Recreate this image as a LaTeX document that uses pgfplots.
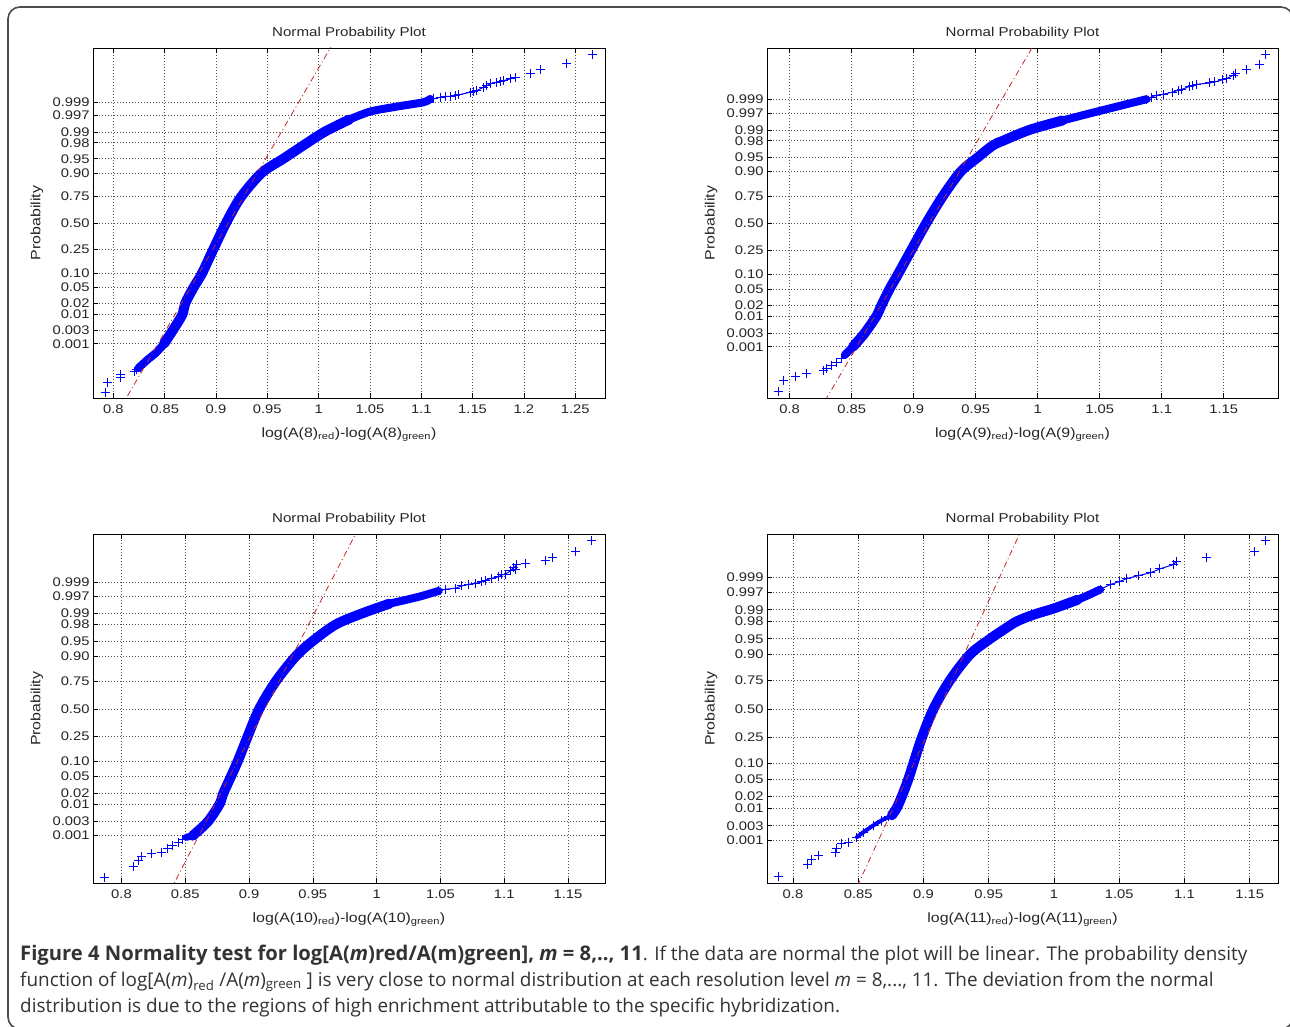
\documentclass[border=0pt]{standalone}
\usepackage{fontspec}
\setmainfont{Liberation Sans}[FakeStretch=1.18]
\newfontfamily\capfont{Open Sans}
\usepackage{pgfplots}
\pgfplotsset{compat=1.18}

\definecolor{refred}{RGB}{200,40,40}
\definecolor{gridgray}{RGB}{80,80,80}

% normal probability scale: y is the normal quantile, labels are probabilities
\pgfplotsset{
  nplot/.style={
    scale only axis,
    anchor=south west,
    axis line style={line width=0.8pt, black},
    tick align=inside,
    major tick length=5pt,
    tick style={line width=0.6pt, black},
    grid=major,
    grid style={line width=0.6pt, gridgray, dash pattern=on 1pt off 2pt},
    ytick={-3.0902,-2.7478,-2.3263,-2.0537,-1.6449,-1.2816,-0.6745,0,0.6745,1.2816,1.6449,2.0537,2.3263,2.7478,3.0902},
    yticklabels={0.001,0.003,0.01,0.02,0.05,0.10,0.25,0.50,0.75,0.90,0.95,0.98,0.99,0.997,0.999},
    ticklabel style={font=\fontsize{12.5}{12.5}\selectfont, text=black!85},
    xticklabel style={yshift=-3pt},
    title={Normal Probability Plot},
    title style={font=\fontsize{12.8}{13}\selectfont, text=black!85, at={(axis description cs:0.5,1.0157)}, anchor=base},
    xlabel style={font=\fontsize{13.5}{14}\selectfont, text=black!85, at={(axis description cs:0.5,-0.112)}, anchor=base},
    ylabel={Probability},
    ylabel style={font=\fontsize{13.5}{14}\selectfont, text=black!85, at={(axis description cs:-0.1094,0.5)}, anchor=center},
  },
  band/.style={blue, no marks, smooth, line cap=round, line join=round},
  pts/.style={blue, only marks, mark=+, mark size=4.5pt, mark options={line width=1pt}},
  tail/.style={blue, line width=1pt, mark=+, mark size=4.5pt, mark options={line width=1pt}},
  refline/.style={refred, line width=0.8pt, dash pattern=on 6pt off 3pt on 1pt off 3pt},
}

\begin{document}
\begin{tikzpicture}
\useasboundingbox (0pt,0pt) rectangle (1290pt,1026pt);
\fill[white] (0pt,0pt) rectangle (1290pt,1026pt);
\draw[line width=1.6pt, black!70, rounded corners=12pt] (8pt,-3pt) rectangle (1293pt,1019pt);

% m = 8
\begin{axis}[nplot, at={(93pt,628pt)}, width=512pt, height=350pt,
  xmin=0.7802, xmax=1.2790, ymin=-4.48, ymax=4.48,
  xtick={0.8,0.85,0.9,0.95,1,1.05,1.1,1.15,1.2,1.25},
  xticklabels={0.8,0.85,0.9,0.95,1,1.05,1.1,1.15,1.2,1.25},
  xlabel={log(A(8)\textsubscript{red})-log(A(8)\textsubscript{green})}]
\addplot[band, line width=8pt] coordinates {(0.8244,-3.715) (0.8326,-3.518) (0.8423,-3.305) (0.8494,-3.090)};
\addplot[band, line width=10pt] coordinates {(0.8494,-3.090) (0.8579,-2.750) (0.8673,-2.341) (0.8699,-2.067) (0.8780,-1.658) (0.8862,-1.300) (0.8972,-0.686) (0.9098,0) (0.9242,0.660) (0.9446,1.284) (0.9654,1.642) (0.9898,2.067) (1.0063,2.341) (1.0300,2.650)};
\addplot[band, line width=8pt] coordinates {(1.0300,2.650) (1.0502,2.852) (1.0762,2.980) (1.1019,3.090) (1.1087,3.177)};
\addplot[pts] coordinates {(0.7919,-4.329) (0.7942,-4.073) (0.8072,-3.945) (0.8072,-3.883) (0.8202,-3.799) (0.8228,-3.755) (0.8260,-3.697)};
\addplot[tail] coordinates {(1.1119,3.177) (1.1184,3.218) (1.1232,3.236) (1.1281,3.244) (1.1330,3.262) (1.1363,3.280) (1.1477,3.346) (1.1509,3.364) (1.1542,3.389) (1.1606,3.474) (1.1639,3.517) (1.1672,3.561) (1.1737,3.602) (1.1769,3.620) (1.1801,3.645) (1.1866,3.688) (1.1915,3.730)};
\addplot[pts] coordinates {(1.2061,3.817) (1.2159,3.919) (1.2419,4.073) (1.2669,4.311)};
\addplot[refline] coordinates {(0.8011,-5) (1.0229,5)};
\end{axis}

% m = 9
\begin{axis}[nplot, at={(767pt,628pt)}, width=511pt, height=350pt,
  xmin=0.7817, xmax=1.1938, ymin=-4.37, ymax=4.37,
  xtick={0.8,0.85,0.9,0.95,1,1.05,1.1,1.15},
  xticklabels={0.8,0.85,0.9,0.95,1,1.05,1.1,1.15},
  xlabel={log(A(9)\textsubscript{red})-log(A(9)\textsubscript{green})}]
\addplot[band, line width=8pt] coordinates {(0.8444,-3.298) (0.8510,-3.091)};
\addplot[band, line width=10pt] coordinates {(0.8510,-3.091) (0.8605,-2.748) (0.8699,-2.326) (0.8740,-2.054) (0.8806,-1.645) (0.8873,-1.2816) (0.8981,-0.6745) (0.9102,0) (0.9236,0.6745) (0.9379,1.2816) (0.9519,1.645) (0.9640,1.941) (0.9720,2.054) (0.9935,2.326) (1.0200,2.560)};
\addplot[band, line width=8pt] coordinates {(1.0200,2.560) (1.0435,2.748) (1.0877,3.090)};
\addplot[pts] coordinates {(0.7906,-4.214) (0.7954,-3.940) (0.8046,-3.840) (0.8135,-3.755) (0.8269,-3.690) (0.8296,-3.630) (0.8336,-3.548) (0.8377,-3.491) (0.8417,-3.381)};
\addplot[tail] coordinates {(1.0877,3.090) (1.0917,3.146) (1.0957,3.189) (1.1011,3.214) (1.1091,3.271) (1.1132,3.313) (1.1159,3.331) (1.1226,3.413) (1.1252,3.438) (1.1280,3.463) (1.1387,3.496) (1.1427,3.521) (1.1494,3.580) (1.1522,3.605) (1.1575,3.688) (1.1597,3.745)};
\addplot[pts] coordinates {(1.1683,3.830) (1.1790,3.955) (1.1839,4.212)};
\addplot[refline] coordinates {(0.8179,-5) (1.0073,5)};
\end{axis}

% m = 10
\begin{axis}[nplot, at={(93pt,142.7pt)}, width=512pt, height=349pt,
  xmin=0.7777, xmax=1.1790, ymin=-4.25, ymax=4.25,
  xtick={0.8,0.85,0.9,0.95,1,1.05,1.1,1.15},
  xticklabels={0.8,0.85,0.9,0.95,1,1.05,1.1,1.15},
  xlabel={log(A(10)\textsubscript{red})-log(A(10)\textsubscript{green})}]
\addplot[band, line width=7pt] coordinates {(0.8508,-3.131) (0.8559,-3.09)};
\addplot[band, line width=10pt] coordinates {(0.8559,-3.09) (0.8677,-2.748) (0.8768,-2.326) (0.8799,-2.054) (0.8859,-1.645) (0.8911,-1.2816) (0.8989,-0.6745) (0.9080,0) (0.9211,0.6745) (0.9367,1.2816) (0.9497,1.645) (0.9680,2.054) (0.9888,2.326) (1.0100,2.560)};
\addplot[band, line width=8pt] coordinates {(1.0100,2.560) (1.0252,2.669) (1.0354,2.748) (1.0487,2.871)};
\addplot[pts] coordinates {(0.7870,-4.105) (0.8091,-3.837) (0.8130,-3.698) (0.8156,-3.601) (0.8234,-3.535) (0.8313,-3.496) (0.8364,-3.413) (0.8403,-3.333) (0.8450,-3.253) (0.8481,-3.195)};
\addplot[tail] coordinates {(1.0487,2.871) (1.0539,2.912) (1.0617,2.937) (1.0669,2.993) (1.0721,3.034) (1.0773,3.049) (1.0825,3.097) (1.0852,3.131) (1.0903,3.180) (1.0955,3.212) (1.0981,3.260) (1.1008,3.277) (1.1047,3.358) (1.1073,3.438) (1.1098,3.504)};
\addplot[pts] coordinates {(1.1086,3.399) (1.1164,3.535) (1.1320,3.601) (1.1380,3.681) (1.1559,3.820) (1.1684,4.088)};
\addplot[refline] coordinates {(0.8287,-5) (0.9959,5)};
\end{axis}

% m = 11
\begin{axis}[nplot, at={(767pt,142.7pt)}, width=511pt, height=349pt,
  xmin=0.7801, xmax=1.1717, ymin=-4.10, ymax=4.10,
  xtick={0.8,0.85,0.9,0.95,1,1.05,1.1,1.15},
  xticklabels={0.8,0.85,0.9,0.95,1,1.05,1.1,1.15},
  xlabel={log(A(11)\textsubscript{red})-log(A(11)\textsubscript{green})}]
\addplot[band, line width=4pt] coordinates {(0.8490,-3.014) (0.8541,-2.896) (0.8617,-2.738) (0.8681,-2.620) (0.8732,-2.542) (0.8758,-2.502)};
\addplot[band, line width=10pt] coordinates {(0.8758,-2.502) (0.8796,-2.326) (0.8835,-2.054) (0.8885,-1.645) (0.8923,-1.2816) (0.8988,-0.6745) (0.9077,0) (0.9204,0.6745) (0.9358,1.2816) (0.9511,1.645) (0.9630,1.890) (0.9715,2.054) (0.9842,2.210) (1.0001,2.360) (1.0180,2.560)};
\addplot[band, line width=8pt] coordinates {(1.0180,2.560) (1.0270,2.680) (1.0353,2.800)};
\addplot[pts] coordinates {(0.7890,-3.940) (0.8112,-3.664) (0.8145,-3.546) (0.8196,-3.445) (0.8324,-3.367) (0.8337,-3.287) (0.8375,-3.169) (0.8426,-3.131) (0.8490,-3.014) (0.8541,-2.896) (0.8617,-2.738) (0.8681,-2.620) (0.8732,-2.542)};
\addplot[tail] coordinates {(1.0353,2.800) (1.0430,2.917) (1.0506,2.995) (1.0557,3.058) (1.0646,3.129) (1.0736,3.193) (1.0812,3.287) (1.0914,3.388) (1.0940,3.466)};
\addplot[pts] coordinates {(1.1170,3.546) (1.1534,3.688) (1.1622,3.954)};
\addplot[refline] coordinates {(0.8368,-5) (0.9870,5)};
\end{axis}

% caption
\begin{scope}[every node/.style={anchor=base west, inner sep=0pt, text=black!80, font={\capfont\fontsize{18.9}{23}\selectfont}}]
\node at (20pt,66pt) {{\fontsize{20.2}{23}\selectfont\bfseries Figure 4 Normality test for log[A(\textit{m})red/A(m)green], \textit{m} = 8,.., 11}. If the data are normal the plot will be linear. The probability density};
\node at (20pt,40pt) {function of log[A(\textit{m})\textsubscript{red} /A(\textit{m})\textsubscript{green} ] is very close to normal distribution at each resolution level \textit{m} = 8,..., 11. The deviation from the normal};
\node at (20pt,14pt) {distribution is due to the regions of high enrichment attributable to the specific hybridization.};
\end{scope}
\end{tikzpicture}
\end{document}
